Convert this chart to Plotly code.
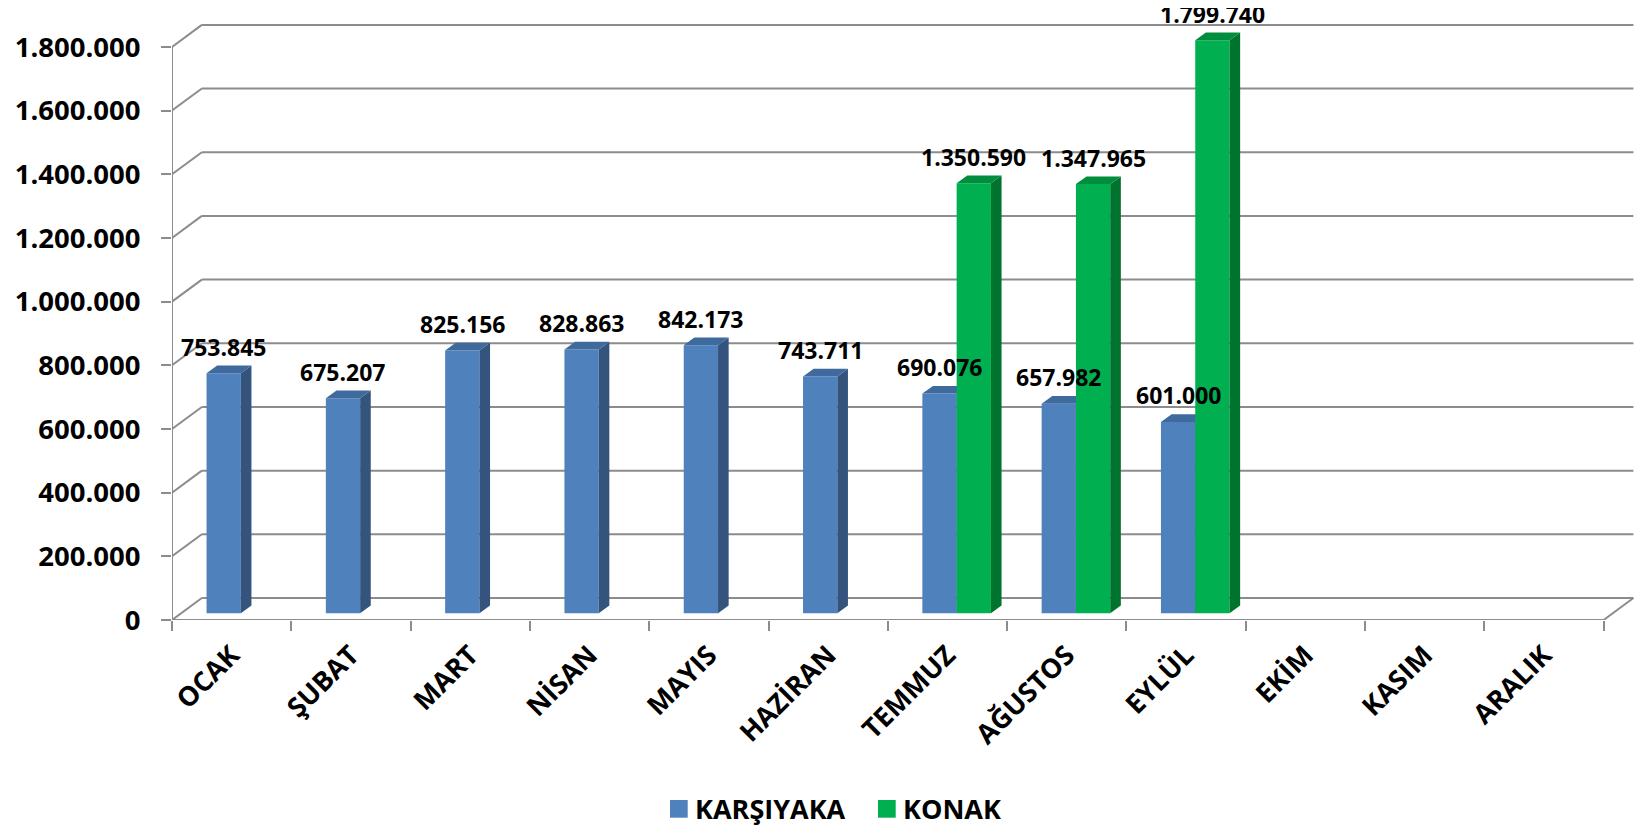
import plotly.graph_objects as go

# ---------------- data ----------------
months = ["OCAK", "ŞUBAT", "MART", "NİSAN", "MAYIS", "HAZİRAN",
          "TEMMUZ", "AĞUSTOS", "EYLÜL", "EKİM", "KASIM", "ARALIK"]
karsiyaka = [753845, 675207, 825156, 828863, 842173, 743711,
             690076, 657982, 601000, None, None, None]
konak = [None, None, None, None, None, None,
         1350590, 1347965, 1799740, None, None, None]
series_names = ["KARŞIYAKA", "KONAK"]
y_ticks = [0, 200000, 400000, 600000, 800000, 1000000,
           1200000, 1400000, 1600000, 1800000]

# ---------------- styling / geometry ----------------
FRONT = ["#4F81BD", "#00B050"]
SIDE = ["#34547E", "#00732F"]
TOP = ["#3F6A9E", "#008D3D"]
GRID = "#8C8C8C"
FONT = "Open Sans"

OFF = 8                      # default page body margin of the html page
FIG_W, FIG_H = 1644 - OFF, 826 - OFF
ML, MR, MT = 164, 0, 0
ZERO_Y = 620 - OFF           # pixel row of the value 0 (figure coords)
MB = FIG_H - ZERO_Y
PW = FIG_W - ML - MR
PH = FIG_H - MT - MB
PX_PER_VAL = 318.4e-6
PX_CAT = 119.3
X0 = -0.5
X1 = X0 + PW / PX_CAT
Y0 = 0
Y1 = PH / PX_PER_VAL

DX, DY = 0.25, 22 / PX_PER_VAL          # wall depth
FX, FY = 0.077, 6.7 / PX_PER_VAL        # bar front-face depth shift
BX, BY = 0.089, 7.7 / PX_PER_VAL        # bar depth
BW = 0.2875                              # bar width (category units)
LABEL_OFF = 26.6 / PX_PER_VAL
N = len(months)
XR = N - 0.5


def fmt(v):
    return f"{v:,}".replace(",", ".")


def px2paper(px, py):
    # screen pixel -> paper coordinates
    fx, fy = px - OFF, py - OFF
    return (fx - ML) / PW, (FIG_H - MB - fy) / PH


fig = go.Figure()

# ---------------- walls / grid ----------------
shapes = []
line = dict(color=GRID, width=2)
for v in y_ticks:
    shapes.append(dict(type="line", xref="x", yref="y", x0=X0, y0=v,
                       x1=X0 + DX, y1=v + DY, line=line, layer="below"))
    shapes.append(dict(type="line", xref="x", yref="y", x0=X0 + DX, y0=v + DY,
                       x1=XR + DX, y1=v + DY, line=line, layer="below"))
shapes.append(dict(type="line", xref="x", yref="y", x0=X0, y0=0, x1=X0,
                   y1=y_ticks[-1], line=line, layer="below"))
shapes.append(dict(type="line", xref="x", yref="y", x0=X0, y0=0, x1=XR,
                   y1=0, line=line, layer="below"))
shapes.append(dict(type="line", xref="x", yref="y", x0=XR, y0=0, x1=XR + DX,
                   y1=DY, line=line, layer="below"))

# ---------------- bars ----------------
annotations = []
z = 1
for s, vals in enumerate([karsiyaka, konak]):
    centers = [i + FX + (s - 0.5) * BW for i, v in enumerate(vals) if v is not None]
    vv = [v for v in vals if v is not None]
    fig.add_trace(go.Bar(x=centers, y=vv, base=[FY] * len(vv), width=BW,
                         marker=dict(color=FRONT[s], line=dict(width=0)),
                         name=series_names[s], showlegend=False,
                         hoverinfo="skip", zorder=z))
    z += 1
    sx, sy, tx, ty = [], [], [], []
    for c, v in zip(centers, vv):
        xl, xr = c - BW / 2, c + BW / 2
        top = v + FY
        sx += [xr, xr, xr + BX, xr + BX, xr, None]
        sy += [FY, top, top + BY, FY + BY, FY, None]
        tx += [xl, xr, xr + BX, xl + BX, xl, None]
        ty += [top, top, top + BY, top + BY, top, None]
    fig.add_trace(go.Scatter(x=sx, y=sy, mode="lines", fill="toself",
                             fillcolor=SIDE[s], line=dict(width=0, color=SIDE[s]),
                             showlegend=False, hoverinfo="skip", zorder=z))
    fig.add_trace(go.Scatter(x=tx, y=ty, mode="lines", fill="toself",
                             fillcolor=TOP[s], line=dict(width=0, color=TOP[s]),
                             showlegend=False, hoverinfo="skip", zorder=z))
    z += 1
    # data labels (annotations are never clipped by the plot area)
    for c, v in zip(centers, vv):
        annotations.append(dict(xref="x", yref="y", x=c, y=v + FY + LABEL_OFF,
                                xanchor="center", yanchor="middle",
                                showarrow=False, text=fmt(v), borderpad=0,
                                font=dict(family=FONT, size=23, color="black",
                                          weight="bold")))

# ---------------- legend (manual) ----------------
legend_items = [(670, 694), (878, 902)]
for s, (sq_x, tx_px) in enumerate(legend_items):
    a0, b0 = px2paper(sq_x, 817.7)
    a1, b1 = px2paper(sq_x + 17.7, 800)
    shapes.append(dict(type="rect", xref="paper", yref="paper", x0=a0, y0=b0,
                       x1=a1, y1=b1, fillcolor=FRONT[s], line=dict(width=0)))
    ax, ay = px2paper(tx_px, 808.5)
    annotations.append(dict(xref="paper", yref="paper", x=ax, y=ay,
                            xanchor="left", yanchor="middle", showarrow=False,
                            borderpad=0, text=series_names[s],
                            font=dict(family=FONT, size=27, color="black",
                                      weight="bold")))

fig.update_layout(
    width=FIG_W, height=FIG_H,
    margin=dict(l=ML, r=MR, t=MT, b=MB, pad=0, autoexpand=False),
    paper_bgcolor="white", plot_bgcolor="white",
    barmode="overlay", showlegend=False,
    shapes=shapes, annotations=annotations,
    xaxis=dict(range=[X0, X1], tickmode="array", tickvals=list(range(N)),
               ticktext=months, tickangle=-45, ticks="",
               showgrid=False, zeroline=False, showline=False, automargin=False,
               tickfont=dict(family=FONT, size=27, color="black", weight="bold"),
               ticklabelstandoff=13,
               minor=dict(tickmode="array",
                          tickvals=[i - 0.5 for i in range(N + 1)],
                          ticks="outside", ticklen=10, tickwidth=2,
                          tickcolor=GRID, showgrid=False)),
    yaxis=dict(range=[Y0, Y1], tickmode="array", tickvals=y_ticks,
               ticktext=[fmt(v) for v in y_ticks], ticks="outside",
               ticklen=10, tickwidth=2, tickcolor=GRID, automargin=False,
               showgrid=False, zeroline=False, showline=False,
               tickfont=dict(family=FONT, size=27.5, color="black", weight="bold"),
               ticklabelstandoff=15),
)

fig.write_html("out.html")
